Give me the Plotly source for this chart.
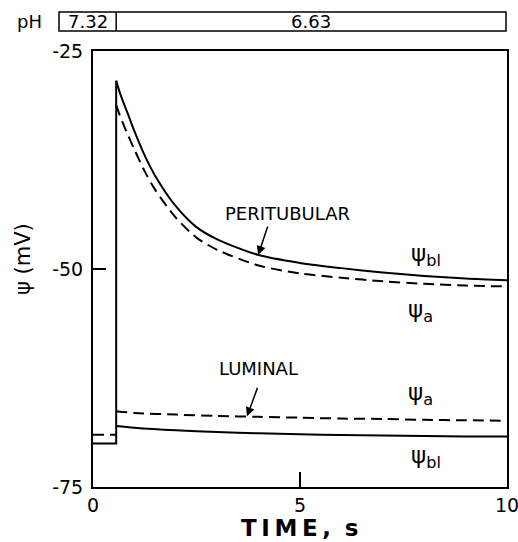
import plotly.graph_objects as go

# Perfusion step: pH change time (s) and pH values
t_step = 0.56
ph_values = ["7.32", "6.63"]

# Resting potentials before the step (mV)
rest_bl = -70.0
rest_a = -69.0

# Peritubular change: time (s) and potentials (mV)
t_peri = [0.56, 0.65, 0.75, 0.85, 1.0, 1.25, 1.5, 2.0, 2.5, 3.0, 4.0, 5.0, 6.0, 7.0, 8.0, 9.0, 10.0]
peri_bl = [-28.4, -29.8, -31.1, -32.3, -34.2, -37.0, -39.3, -42.8, -45.2, -46.6, -48.4, -49.3, -49.9, -50.4, -50.8, -51.1, -51.3]
peri_a = [-31.2, -32.4, -33.6, -34.7, -36.3, -38.8, -40.9, -44.1, -46.4, -47.8, -49.6, -50.5, -51.0, -51.4, -51.7, -51.9, -52.0]

# Luminal change: time (s) and potentials (mV)
t_lum = [0.56, 1.0, 2.0, 3.0, 4.0, 5.0, 6.0, 7.0, 8.0, 9.0, 10.0]
lum_a = [-66.3, -66.5, -66.7, -66.85, -66.95, -67.05, -67.15, -67.2, -67.3, -67.35, -67.4]
lum_bl = [-68.0, -68.2, -68.5, -68.7, -68.85, -68.95, -69.05, -69.1, -69.15, -69.2, -69.2]

x_ticks = [0, 5, 10]
y_ticks = [-75, -50, -25]

FONT = "DejaVu Sans"
solid = dict(color="black", width=2)
dashed = dict(color="black", width=2, dash="11px,6px")
solid_s = dict(color="black", width=2, shape="spline", smoothing=0.8)
dashed_s = dict(color="black", width=2, dash="11px,6px", shape="spline", smoothing=0.8)

fig = go.Figure()


def add(x, y, line):
    fig.add_trace(go.Scatter(x=x, y=y, mode="lines", line=line, hoverinfo="skip"))


# Baselines before the step and the vertical jump
add([0, t_step, t_step], [rest_bl, rest_bl, peri_bl[0]], solid)
add([0, t_step], [rest_a, rest_a], dashed)
# Peritubular responses
add(t_peri, peri_bl, solid_s)
add(t_peri, peri_a, dashed_s)
# Luminal responses
add(t_lum, lum_bl, solid_s)
add(t_lum, lum_a, dashed_s)

L, R, T, B = 93, 11, 51, 55
W, H = 518, 542
pw, ph = W - L - R, H - T - B


def px_x(p):
    return (p - L) / pw


def px_y(p):
    return (H - B - p) / ph


# pH bar above the plot
box_left = px_x(59)
box_right = px_x(506)
box_top = px_y(12)
box_bot = px_y(31)
box_mid = (box_top + box_bot) / 2
shapes = [
    dict(type="rect", xref="paper", yref="paper", x0=box_left, x1=box_right, y0=box_bot, y1=box_top,
         line=dict(color="black", width=1.5)),
    dict(type="line", xref="paper", yref="paper", x0=t_step / 10, x1=t_step / 10, y0=box_bot, y1=box_top,
         line=dict(color="black", width=1.5)),
]

ann = []
tf = dict(family=FONT, size=18, color="black")
common = dict(xref="paper", yref="paper", showarrow=False, xanchor="center", yanchor="middle")
ann.append(dict(common, x=px_x(30), y=box_mid, text="pH", font=tf))
ann.append(dict(common, x=(box_left + t_step / 10) / 2, y=box_mid, text=ph_values[0], font=tf))
ann.append(dict(common, x=(t_step / 10 + box_right) / 2, y=box_mid, text=ph_values[1], font=tf))

# Axis titles
ann.append(dict(common, x=px_x(23), y=px_y(259), text="ψ (mV)", textangle=-90,
                font=dict(family=FONT, size=21, color="black")))
ann.append(dict(common, x=px_x(299), y=px_y(528),
                text="<b>T\u2009I\u2009M\u2009E\u2009,\u2009\u2009\u2009s</b>",
                font=dict(family=FONT, size=23, color="black")))

# Curve labels and arrows
lab = dict(family=FONT, size=18, color="black")
ann.append(dict(x=4.69, y=-43.6, text="PERITUBULAR", showarrow=False, font=lab))
ann.append(dict(x=3.99, y=-48.4, text="", showarrow=True, ax=10, ay=-30, arrowhead=2,
                arrowsize=1.2, arrowwidth=1.5, arrowcolor="black"))
ann.append(dict(x=3.99, y=-61.4, text="LUMINAL", showarrow=False, font=lab))
ann.append(dict(x=3.72, y=-66.9, text="", showarrow=True, ax=11, ay=-30, arrowhead=2,
                arrowsize=1.2, arrowwidth=1.5, arrowcolor="black"))

psi = dict(family=FONT, size=23, color="black")
ann.append(dict(x=8.05, y=-48.4, text="ψ<sub>bl</sub>", showarrow=False, font=psi))
ann.append(dict(x=7.9, y=-54.8, text="ψ<sub>a</sub>", showarrow=False, font=psi))
ann.append(dict(x=7.9, y=-64.3, text="ψ<sub>a</sub>", showarrow=False, font=psi))
ann.append(dict(x=8.05, y=-71.6, text="ψ<sub>bl</sub>", showarrow=False, font=psi))

fig.update_layout(
    width=W, height=H,
    margin=dict(l=L, r=R, t=T, b=B, autoexpand=False),
    paper_bgcolor="white", plot_bgcolor="white",
    showlegend=False,
    shapes=shapes,
    annotations=ann,
    font=dict(family=FONT, color="black"),
)
fig.update_xaxes(range=[0, 10], tickvals=x_ticks, ticktext=[str(v) for v in x_ticks],
                 ticks="inside", ticklen=15, tickwidth=2, tickcolor="black",
                 showline=True, linecolor="black", linewidth=2, mirror=True, automargin=False,
                 ticklabeloverflow="allow",
                 showgrid=False, zeroline=False, tickfont=dict(family=FONT, size=19, color="black"))
fig.update_yaxes(range=[-75, -25], tickvals=y_ticks, ticktext=[str(v) for v in y_ticks],
                 ticks="inside", ticklen=13, tickwidth=2, tickcolor="black",
                 showline=True, linecolor="black", linewidth=2, mirror=True, automargin=False,
                 ticklabelstandoff=4, ticklabeloverflow="allow",
                 showgrid=False, zeroline=False, tickfont=dict(family=FONT, size=19, color="black"))

fig.write_html("out.html")
